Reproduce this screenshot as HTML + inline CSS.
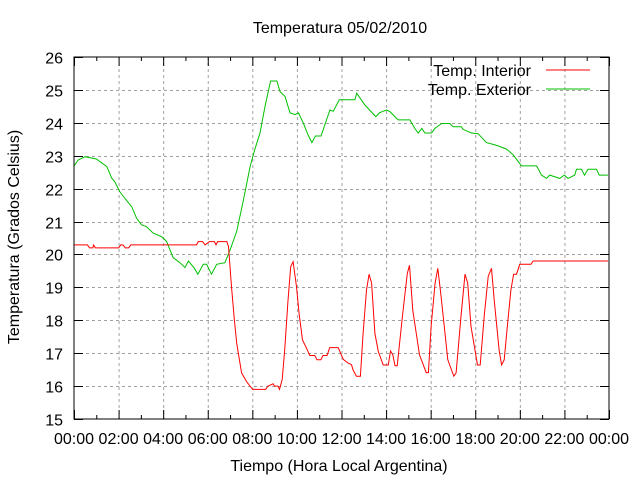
<!DOCTYPE html>
<html><head><meta charset="utf-8"><style>
html,body{margin:0;padding:0;background:#fff;}
svg{display:block;font-family:"Liberation Sans",sans-serif;}
</style></head><body>
<svg id="chart" width="640" height="480" viewBox="0 0 640 480" xmlns="http://www.w3.org/2000/svg">
<rect x="0" y="0" width="640" height="480" fill="#fff"/>
<text x="340" y="33" text-anchor="middle" font-size="16">Temperatura 05/02/2010</text>
<text x="339" y="471" text-anchor="middle" font-size="16">Tiempo (Hora Local Argentina)</text>
<text transform="translate(19,237) rotate(-90)" text-anchor="middle" font-size="16">Temperatura (Grados Celsius)</text>
<g id="grid"></g>
<g id="ticks"></g>
<g id="series"></g>
<rect x="74" y="57" width="535" height="362" fill="none" stroke="#000" stroke-width="1"/>
<g>
<text x="531" y="76" text-anchor="end" font-size="16">Temp. Interior</text>
<line x1="546" y1="70" x2="590" y2="70" stroke="#ff0000"/>
<text x="531" y="95" text-anchor="end" font-size="16">Temp. Exterior</text>
<line x1="546" y1="89" x2="590" y2="89" stroke="#00c000"/>
</g>
</svg>
<script>
const xTickLabels = ["00:00","02:00","04:00","06:00","08:00","10:00","12:00","14:00","16:00","18:00","20:00","22:00","00:00"];
const yTicks = [15,16,17,18,19,20,21,22,23,24,25,26];
const exteriorHours = [0,0.19,0.5,1.0,1.47,1.69,1.84,2.06,2.29,2.59,2.81,3.03,3.25,3.55,3.93,4.15,4.45,4.75,4.98,5.13,5.38,5.56,5.8,5.95,6.17,6.4,6.77,7.0,7.3,7.6,7.9,8.1,8.35,8.57,8.82,9.1,9.24,9.47,9.69,9.92,10.07,10.28,10.5,10.67,10.83,11.08,11.48,11.63,11.9,12.6,12.68,13.05,13.33,13.54,13.72,14.02,14.17,14.54,15.07,15.29,15.44,15.6,15.74,16.04,16.19,16.49,16.86,17.01,17.38,17.46,17.83,18.13,18.5,18.88,19.1,19.4,19.7,19.93,20.08,20.75,20.97,21.2,21.34,21.79,22.0,22.16,22.46,22.54,22.76,22.9,23.06,23.44,23.56,23.95];
const exteriorTemps = [22.69,22.87,22.97,22.9,22.67,22.32,22.2,21.9,21.7,21.45,21.1,20.9,20.85,20.65,20.54,20.4,19.9,19.75,19.6,19.8,19.6,19.4,19.7,19.7,19.4,19.7,19.75,20.13,20.7,21.65,22.67,23.17,23.7,24.5,25.27,25.27,24.95,24.8,24.3,24.25,24.3,24.0,23.63,23.4,23.6,23.6,24.39,24.35,24.7,24.7,24.9,24.54,24.34,24.19,24.31,24.39,24.34,24.09,24.09,23.83,23.69,23.83,23.69,23.69,23.83,23.98,23.98,23.88,23.88,23.8,23.69,23.67,23.4,23.33,23.28,23.2,23.03,22.82,22.69,22.69,22.41,22.31,22.41,22.31,22.41,22.31,22.41,22.59,22.59,22.41,22.59,22.59,22.41,22.41];
const interiorHours = [0,0.6,0.7,0.85,0.88,0.96,2.0,2.1,2.2,2.3,2.45,2.55,5.5,5.57,5.77,5.88,6.07,6.3,6.37,6.44,6.86,6.93,7.07,7.18,7.3,7.52,7.74,8.01,8.6,8.7,8.93,9.0,9.15,9.22,9.34,9.45,9.6,9.72,9.83,9.98,10.1,10.25,10.43,10.58,10.8,10.9,11.07,11.17,11.35,11.47,11.85,12.08,12.3,12.45,12.52,12.67,12.85,12.97,13.12,13.24,13.35,13.5,13.65,13.87,14.1,14.2,14.3,14.4,14.5,14.75,14.95,15.05,15.2,15.5,15.8,15.9,16.02,16.2,16.32,16.47,16.77,17.04,17.14,17.36,17.54,17.66,17.81,18.1,18.22,18.4,18.58,18.73,18.85,19.07,19.18,19.3,19.45,19.6,19.72,19.85,20.0,20.5,20.6,23.95];
const interiorTemps = [20.29,20.29,20.2,20.2,20.29,20.2,20.2,20.29,20.29,20.2,20.2,20.29,20.29,20.39,20.39,20.29,20.39,20.39,20.29,20.39,20.39,20.24,18.98,18.1,17.3,16.4,16.14,15.9,15.9,16.0,16.07,16.0,16.0,15.9,16.2,17.1,18.6,19.63,19.78,19.02,18.2,17.4,17.15,16.93,16.93,16.8,16.8,16.93,16.93,17.17,17.17,16.81,16.7,16.65,16.49,16.3,16.3,17.6,18.92,19.4,19.13,17.6,17.05,16.64,16.64,17.07,16.95,16.62,16.62,18.22,19.42,19.67,18.3,16.95,16.41,16.41,17.81,19.13,19.58,18.72,16.8,16.3,16.4,18.12,19.4,19.13,17.81,16.64,16.64,18.12,19.33,19.58,18.62,17.1,16.64,16.8,17.9,18.92,19.4,19.4,19.7,19.7,19.8,19.8];

const NS = "http://www.w3.org/2000/svg";
const L=74,R=609,T=57,B=419;
function xScale(h){return L+(R-L)*h/24;}
function yScale(v){return B-(B-T)*(v-15)/11;}
function mk(tag,attrs,parent){const e=document.createElementNS(NS,tag);for(const k in attrs)e.setAttribute(k,attrs[k]);parent.appendChild(e);return e;}
const grid=document.getElementById('grid'),ticks=document.getElementById('ticks'),series=document.getElementById('series');
xTickLabels.forEach((lab,i)=>{
  const x=xScale(i*2)+0.5;
  if(i>0&&i<xTickLabels.length-1){
    const g=mk('line',{x1:x,y1:T,x2:x,y2:B,stroke:'#a0a0a0','stroke-dasharray':'3,3'},grid);
    
    
  }
  const tk=mk('line',{x1:x,y1:B,x2:x,y2:B-9,stroke:'#000'},ticks);
  
  
  const tk2=mk('line',{x1:x,y1:T,x2:x,y2:T+9,stroke:'#000'},ticks);
  
  
  const t=mk('text',{x:xScale(i*2),y:444,'text-anchor':'middle','font-size':'16'},ticks);
  t.textContent=lab;
  
  
});
for(let h=1;h<24;h+=2){
  const x=xScale(h)+0.5;
  const m=mk('line',{x1:x,y1:B,x2:x,y2:B-4,stroke:'#000'},ticks);
  
  
  const m2=mk('line',{x1:x,y1:T,x2:x,y2:T+4,stroke:'#000'},ticks);
  
  
}
yTicks.forEach(v=>{
  const y=Math.round(yScale(v))+0.5;
  if(v>15&&v<26){
    const g=mk('line',{x1:L,y1:y,x2:R,y2:y,stroke:'#a0a0a0','stroke-dasharray':'3,3'},grid);
    
    
  }
  const a=mk('line',{x1:L,y1:y,x2:L+9,y2:y,stroke:'#000'},ticks);
  
  
  const b=mk('line',{x1:R,y1:y,x2:R-9,y2:y,stroke:'#000'},ticks);
  
  
  const t=mk('text',{x:63,y:y+6,'text-anchor':'end','font-size':'16'},ticks);
  t.textContent=String(v);
  
  
});
function pathFrom(hs,vs){return hs.map((h,i)=>(i?'L':'M')+xScale(h).toFixed(1)+','+yScale(vs[i]).toFixed(1)).join(' ');}
const pe=mk('path',{d:pathFrom(exteriorHours,exteriorTemps),fill:'none',stroke:'#00c000','stroke-width':'1'},series);


const pi=mk('path',{d:pathFrom(interiorHours,interiorTemps),fill:'none',stroke:'#ff0000','stroke-width':'1'},series);


</script>
</body></html>
